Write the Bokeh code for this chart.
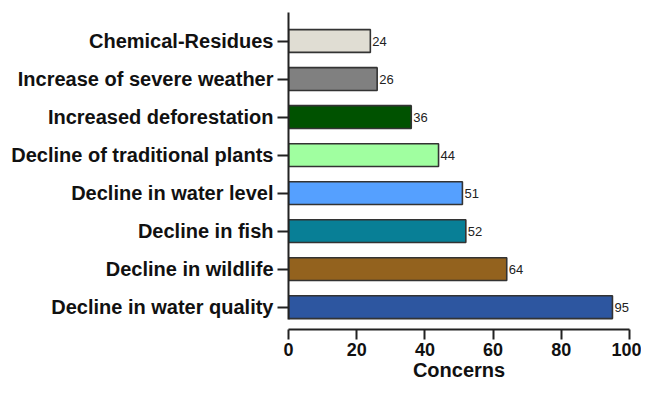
from bokeh.plotting import figure
from bokeh.models import ColumnDataSource, Range1d, FixedTicker
from bokeh.core.properties import value
from bokeh.embed import file_html
from bokeh.resources import INLINE

# Data (bottom -> top)
categories = [
    "Decline in water quality",
    "Decline in wildlife",
    "Decline in fish",
    "Decline in water level",
    "Decline of traditional plants",
    "Increased deforestation",
    "Increase of severe weather",
    "Chemical-Residues",
]
concerns = [95, 64, 52, 51, 44, 36, 26, 24]
bar_colors = ["#2D56A0", "#93621E", "#087F96", "#55A0FF",
              "#A0FFA0", "#005200", "#808080", "#E0DDD3"]
x_ticks = [0, 20, 40, 60, 80, 100]

positions = list(range(len(categories)))
source = ColumnDataSource(dict(
    pos=positions,
    val=concerns,
    color=bar_colors,
    label=[str(v) for v in concerns],
))

FONT = "Liberation Sans"

p = figure(width=641, height=384, output_backend="svg", toolbar_location=None,
           x_range=Range1d(0, 100), y_range=Range1d(-0.587, 7.75),
           min_border_left=288, min_border_right=12,
           min_border_top=12, min_border_bottom=55)

p.hbar(y="pos", left=0, right="val", height=0.6, fill_color="color",
       line_color="#333333", line_width=1.6, source=source)

p.text(x="val", y="pos", text="label", x_offset=2, text_baseline="middle",
       text_align="left", text_font=value(FONT), text_font_size="13px",
       text_color="#222222", source=source)

p.grid.visible = False
p.outline_line_color = None
p.background_fill_color = "white"
p.border_fill_color = "white"

# x axis
xa = p.xaxis[0]
xa.ticker = FixedTicker(ticks=x_ticks)
xa.axis_label = "Concerns"
xa.axis_label_text_font = FONT
xa.axis_label_text_font_style = "bold"
xa.axis_label_text_font_size = "20px"
xa.axis_label_text_color = "#111111"
xa.axis_label_standoff = 0
xa.major_label_text_font = FONT
xa.major_label_text_font_style = "bold"
xa.major_label_text_font_size = "18px"
xa.major_label_text_color = "#111111"
xa.major_label_standoff = 3
xa.axis_line_width = 2
xa.axis_line_color = "#222222"
xa.major_tick_line_width = 2
xa.major_tick_line_color = "#222222"
xa.major_tick_out = 10
xa.major_tick_in = 0
xa.minor_tick_line_color = None

# y axis
ya = p.yaxis[0]
ya.ticker = FixedTicker(ticks=positions)
ya.major_label_overrides = {i: c for i, c in zip(positions, categories)}
ya.bounds = (-0.32, 7.75)
ya.major_label_text_font = FONT
ya.major_label_text_font_style = "bold"
ya.major_label_text_font_size = "20px"
ya.major_label_text_color = "#111111"
ya.major_label_standoff = 4
ya.axis_line_width = 2
ya.axis_line_color = "#222222"
ya.major_tick_line_width = 2
ya.major_tick_line_color = "#222222"
ya.major_tick_out = 11
ya.major_tick_in = 0
ya.minor_tick_line_color = None

open("out.html", "w").write(file_html(p, INLINE))
